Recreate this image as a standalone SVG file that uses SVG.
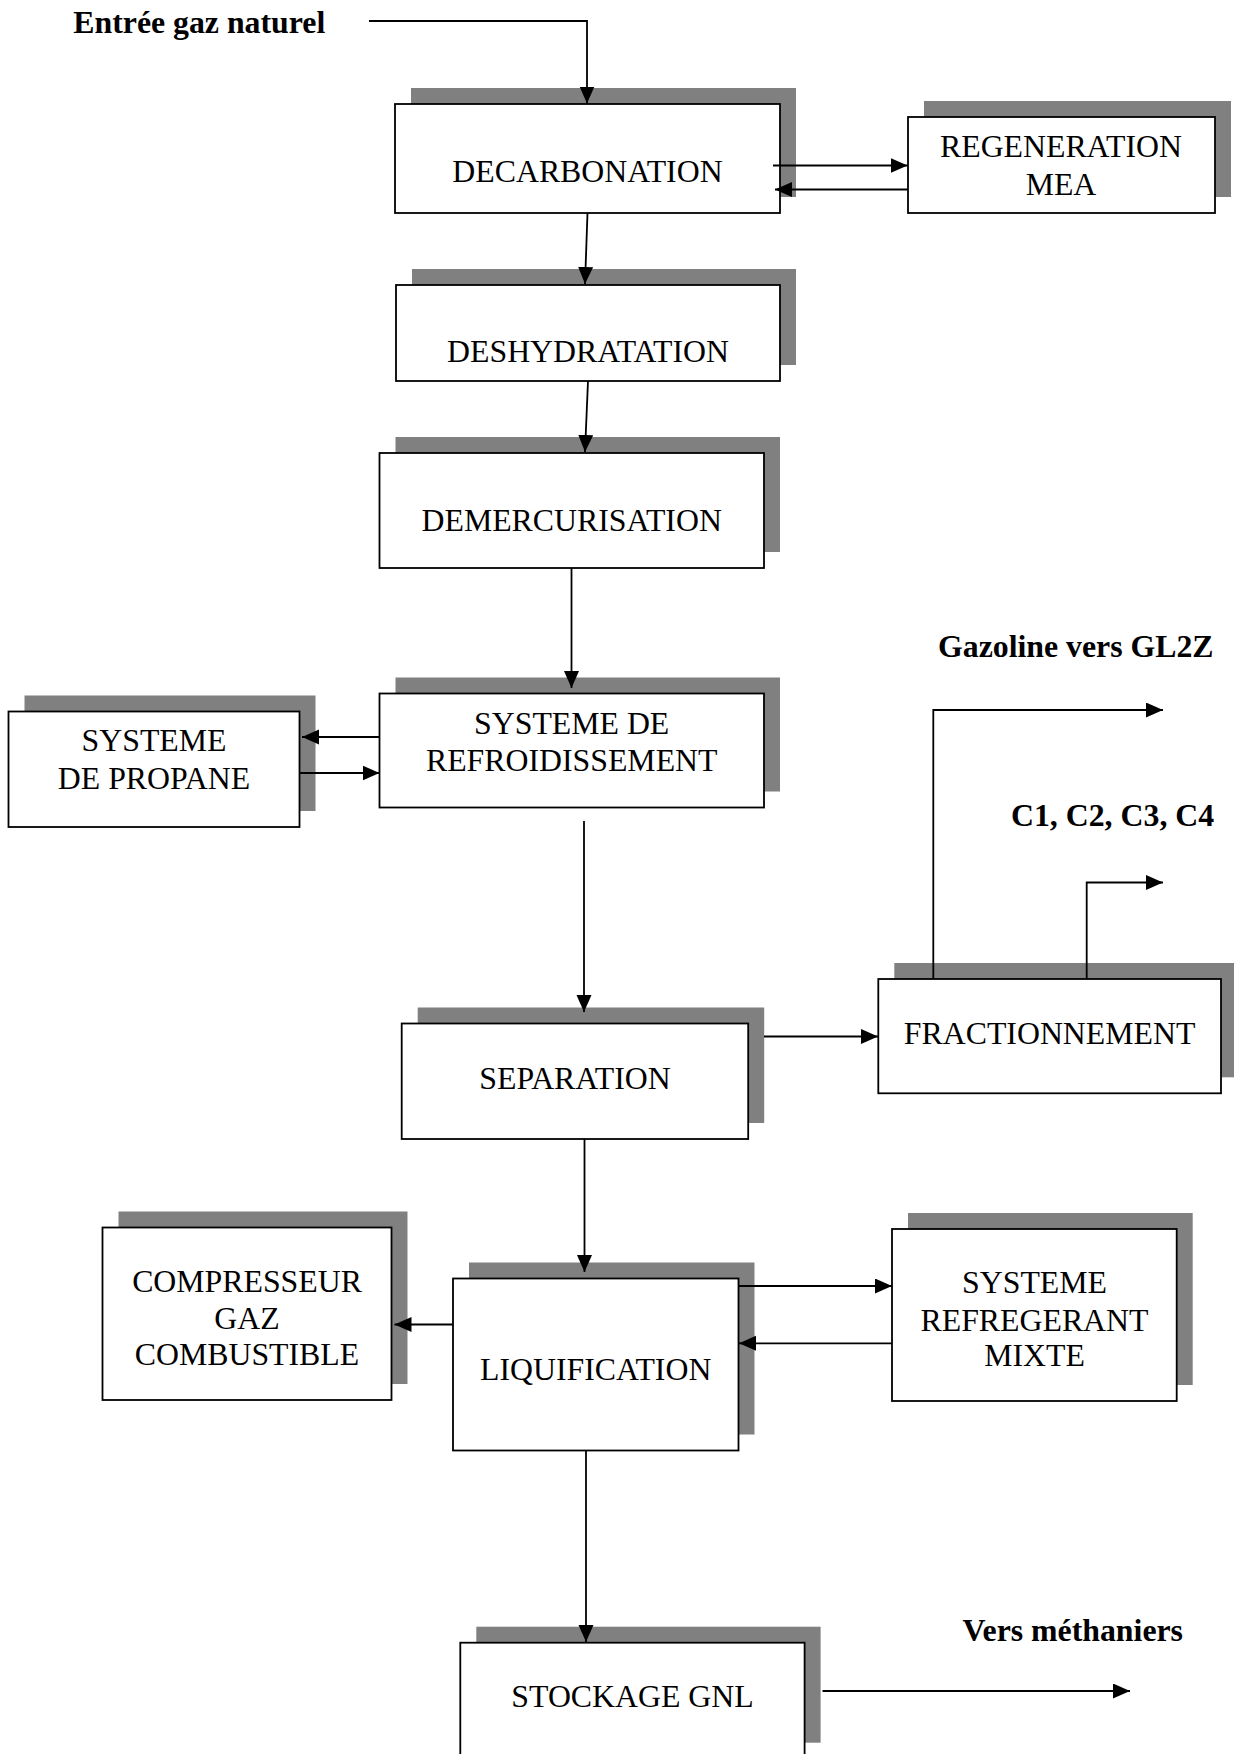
<svg xmlns="http://www.w3.org/2000/svg" width="1234" height="1754" viewBox="0 0 1234 1754">
  <style>
    .shadow { fill: #808080; stroke: none; }
    .box { fill: #ffffff; stroke: #000000; stroke-width: 1.8; }
    .lbl { font-family: "Liberation Serif", "Times New Roman", serif; font-size: 31.8px; fill: #000000; text-anchor: middle; }
    .note { font-family: "Liberation Serif", "Times New Roman", serif; font-size: 31.8px; font-weight: bold; fill: #000000; }
    .flow { fill: none; stroke: #000000; stroke-width: 1.8; marker-end: url(#arrow); }
  </style>
  <defs>
    <marker id="arrow" markerUnits="userSpaceOnUse" markerWidth="18" markerHeight="16" refX="17" refY="7.5" orient="auto">
      <path d="M0,0 L17,7.5 L0,15 Z" fill="#000000"/>
    </marker>
  </defs>

  <rect width="1234" height="1754" fill="#ffffff"/>

  <!-- free labels -->
  <g id="labels">
    <text class="note" x="73.3" y="33.3">Entrée gaz naturel</text>
    <text class="note" x="938" y="657">Gazoline vers GL2Z</text>
    <text class="note" x="1011" y="826">C1, C2, C3, C4</text>
    <text class="note" x="962.5" y="1641">Vers méthaniers</text>
  </g>

  <!-- process blocks: grey drop shadow offset (+16,-16) behind a white box -->
  <g id="decarbonation">
    <rect class="shadow" x="411" y="88" width="385" height="109"/>
    <rect class="box" x="395" y="104" width="385" height="109"/>
    <text class="lbl" x="587.5" y="182">DECARBONATION</text>
  </g>
  <g id="regeneration-mea">
    <rect class="shadow" x="924" y="101" width="307" height="96"/>
    <rect class="box" x="908" y="117" width="307" height="96"/>
    <text class="lbl" x="1061" y="157">REGENERATION</text>
    <text class="lbl" x="1061" y="195">MEA</text>
  </g>
  <g id="deshydratation">
    <rect class="shadow" x="412" y="269" width="384" height="96"/>
    <rect class="box" x="396" y="285" width="384" height="96"/>
    <text class="lbl" x="588" y="362">DESHYDRATATION</text>
  </g>
  <g id="demercurisation">
    <rect class="shadow" x="395.5" y="437" width="384.5" height="115"/>
    <rect class="box" x="379.5" y="453" width="384.5" height="115"/>
    <text class="lbl" x="571.7" y="531">DEMERCURISATION</text>
  </g>
  <g id="refroidissement">
    <rect class="shadow" x="395.5" y="677.5" width="384.5" height="114"/>
    <rect class="box" x="379.5" y="693.5" width="384.5" height="114"/>
    <text class="lbl" x="571.7" y="734">SYSTEME DE</text>
    <text class="lbl" x="571.7" y="771">REFROIDISSEMENT</text>
  </g>
  <g id="propane">
    <rect class="shadow" x="24.5" y="695.5" width="291" height="115.5"/>
    <rect class="box" x="8.5" y="711.5" width="291" height="115.5"/>
    <text class="lbl" x="154" y="751">SYSTEME</text>
    <text class="lbl" x="154" y="789">DE PROPANE</text>
  </g>
  <g id="separation">
    <rect class="shadow" x="417.7" y="1007.5" width="346.5" height="115.5"/>
    <rect class="box" x="401.7" y="1023.5" width="346.5" height="115.5"/>
    <text class="lbl" x="575" y="1089">SEPARATION</text>
  </g>
  <g id="fractionnement">
    <rect class="shadow" x="894.3" y="963" width="342.7" height="114.3"/>
    <rect class="box" x="878.3" y="979" width="342.7" height="114.3"/>
    <text class="lbl" x="1049.6" y="1044">FRACTIONNEMENT</text>
  </g>
  <g id="liquification">
    <rect class="shadow" x="469" y="1262.5" width="285.5" height="172"/>
    <rect class="box" x="453" y="1278.5" width="285.5" height="172"/>
    <text class="lbl" x="595.7" y="1380">LIQUIFICATION</text>
  </g>
  <g id="compresseur">
    <rect class="shadow" x="118.5" y="1211.5" width="289" height="172.5"/>
    <rect class="box" x="102.5" y="1227.5" width="289" height="172.5"/>
    <text class="lbl" x="247" y="1292">COMPRESSEUR</text>
    <text class="lbl" x="247" y="1328.5">GAZ</text>
    <text class="lbl" x="247" y="1365">COMBUSTIBLE</text>
  </g>
  <g id="refregerant-mixte">
    <rect class="shadow" x="908" y="1213" width="284.7" height="172"/>
    <rect class="box" x="892" y="1229" width="284.7" height="172"/>
    <text class="lbl" x="1034.5" y="1293">SYSTEME</text>
    <text class="lbl" x="1034.5" y="1331">REFREGERANT</text>
    <text class="lbl" x="1034.5" y="1366">MIXTE</text>
  </g>
  <g id="stockage">
    <rect class="shadow" x="476.3" y="1626.7" width="344.3" height="116"/>
    <rect class="box" x="460.3" y="1642.7" width="344.3" height="120"/>
    <text class="lbl" x="632.5" y="1707">STOCKAGE GNL</text>
  </g>

  <!-- flow lines -->
  <g id="connectors">
    <polyline class="flow" points="369,21 587,21 587,103.5"/>
    <line class="flow" x1="773" y1="165.5" x2="907.5" y2="165.5"/>
    <line class="flow" x1="907.5" y1="189.5" x2="775" y2="189.5"/>
    <line class="flow" x1="587.5" y1="213" x2="585" y2="284"/>
    <line class="flow" x1="588" y1="381" x2="585" y2="452"/>
    <line class="flow" x1="571.5" y1="568" x2="571.5" y2="688"/>
    <line class="flow" x1="379.5" y1="737" x2="302" y2="737"/>
    <line class="flow" x1="299.5" y1="773" x2="379.5" y2="773"/>
    <line class="flow" x1="584" y1="821" x2="584" y2="1012"/>
    <line class="flow" x1="764" y1="1036.5" x2="878" y2="1036.5"/>
    <polyline class="flow" points="933.3,979 933.3,710 1163,710"/>
    <polyline class="flow" points="1086.7,979 1086.7,882.5 1163,882.5"/>
    <line class="flow" x1="584.5" y1="1139" x2="584.5" y2="1272"/>
    <line class="flow" x1="453" y1="1324.5" x2="394.5" y2="1324.5"/>
    <line class="flow" x1="738.5" y1="1286" x2="892" y2="1286"/>
    <line class="flow" x1="892" y1="1343.3" x2="739" y2="1343.3"/>
    <line class="flow" x1="586" y1="1451" x2="586" y2="1642"/>
    <line class="flow" x1="822.5" y1="1691" x2="1130" y2="1691"/>
  </g>
</svg>
